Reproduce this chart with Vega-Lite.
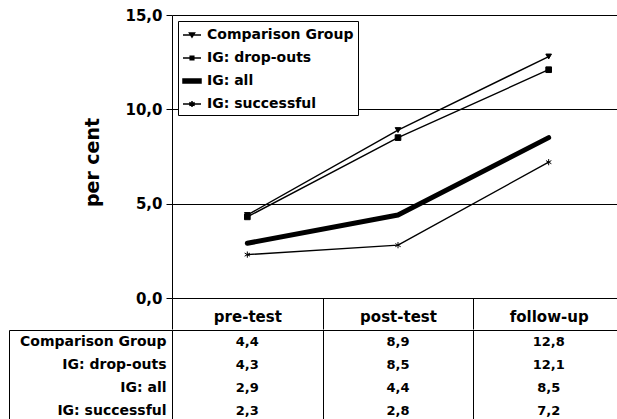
{
  "$schema": "https://vega.github.io/schema/vega-lite/v6.json",
  "padding": {"left": 8, "top": 8, "right": 0, "bottom": 0},
  "spacing": -8,
  "datasets": {
    "d": [
      {"group": "Comparison Group", "time": "pre-test", "value": 4.4},
      {"group": "Comparison Group", "time": "post-test", "value": 8.9},
      {"group": "Comparison Group", "time": "follow-up", "value": 12.8},
      {"group": "IG: drop-outs", "time": "pre-test", "value": 4.3},
      {"group": "IG: drop-outs", "time": "post-test", "value": 8.5},
      {"group": "IG: drop-outs", "time": "follow-up", "value": 12.1},
      {"group": "IG: all", "time": "pre-test", "value": 2.9},
      {"group": "IG: all", "time": "post-test", "value": 4.4},
      {"group": "IG: all", "time": "follow-up", "value": 8.5},
      {"group": "IG: successful", "time": "pre-test", "value": 2.3},
      {"group": "IG: successful", "time": "post-test", "value": 2.8},
      {"group": "IG: successful", "time": "follow-up", "value": 7.2}
    ]
  },
  "config": {
    "locale": {"number": {"decimal": ",", "thousands": ".", "grouping": [3], "currency": ["", ""]}},
    "font": "DejaVu Sans",
    "view": {"stroke": null},
    "axis": {
      "labelFont": "DejaVu Sans", "labelFontWeight": "bold", "labelColor": "black",
      "titleFont": "DejaVu Sans", "titleColor": "black",
      "domainColor": "black", "tickColor": "black", "gridColor": "black", "gridOpacity": 1
    }
  },
  "vconcat": [
    {
      "width": 452,
      "height": 283,
      "data": {"name": "d"},
      "encoding": {
        "x": {
          "field": "time", "type": "nominal",
          "scale": {"type": "band", "domain": ["pre-test", "post-test", "follow-up"], "paddingInner": 0, "paddingOuter": 0},
          "bandPosition": 0.5,
          "axis": {
            "title": null, "orient": "bottom", "tickBand": "extent", "tickSize": 31,
            "domain": false, "grid": false, "labelFontSize": 15, "labelBaseline": "alphabetic",
            "labelPadding": -8, "labelAngle": 0
          }
        },
        "y": {
          "field": "value", "type": "quantitative",
          "scale": {"domain": [0, 15], "nice": false},
          "axis": {
            "values": [0, 5, 10, 15], "format": ".1f", "title": "per cent",
            "titleFontSize": 19, "titleFontWeight": "bold", "titlePadding": 22, "titleY": 147,
            "labelFontSize": 15, "labelPadding": 4, "tickSize": 6, "grid": true, "gridWidth": 1
          }
        }
      },
      "layer": [
        {
          "transform": [{"filter": "datum.group !== 'IG: all'"}],
          "mark": {"type": "line", "color": "black", "strokeWidth": 1.4, "strokeCap": "round", "strokeJoin": "round"},
          "encoding": {"detail": {"field": "group", "type": "nominal"}}
        },
        {
          "transform": [{"filter": "datum.group === 'IG: all'"}],
          "mark": {"type": "line", "color": "black", "strokeWidth": 5, "strokeCap": "round", "strokeJoin": "round"},
          "encoding": {"detail": {"field": "group", "type": "nominal"}}
        },
        {
          "transform": [{"filter": "datum.group !== 'IG: all'"}],
          "mark": {"type": "point", "filled": true, "fill": "black", "stroke": "black", "strokeWidth": 1, "opacity": 1, "size": 32},
          "encoding": {
            "shape": {
              "field": "group", "type": "nominal",
              "scale": {"domain": ["Comparison Group", "IG: drop-outs", "IG: successful"], "range": ["triangle-down", "square", "M0,-1.1V1.1M-0.95,-0.55L0.95,0.55M-0.95,0.55L0.95,-0.55"]},
              "legend": null
            }
          }
        },
        {
          "transform": [{"filter": "false"}],
          "mark": {"type": "point", "filled": true, "fill": "black", "stroke": "black", "strokeWidth": 1.2, "opacity": 1},
          "encoding": {
            "shape": {
              "field": "group", "type": "nominal",
              "scale": {
                "domain": ["Comparison Group", "IG: drop-outs", "IG: all", "IG: successful"],
                "range": [
                  "M-1,0H1M-0.28,-0.22H0.28L0,0.22Z",
                  "M-1,0H1M-0.2,-0.2H0.2V0.2H-0.2Z",
                  "M-1,-0.22H1V0.22H-1Z",
                  "M-1,0H1M0,-0.33V0.33M-0.29,-0.17L0.29,0.17M-0.29,0.17L0.29,-0.17"
                ]
              },
              "legend": {
                "title": null, "orient": "none", "legendX": 6, "legendY": 6,
                "strokeColor": "black", "fillColor": "white", "padding": 4,
                "symbolSize": 324,
                "labelFont": "DejaVu Sans", "labelFontWeight": "bold", "labelFontSize": 14,
                "labelColor": "black", "rowPadding": 6, "labelOffset": 5,
                "encode": {
                  "symbols": {
                    "update": {
                      "stroke": {"value": "black"},
                      "strokeWidth": {"value": 1.2},
                      "fill": {"value": "black"},
                      "opacity": {"value": 1}
                    }
                  }
                }
              }
            }
          }
        }
      ],
      "resolve": {"scale": {"shape": "independent"}}
    },
    {
      "width": 452,
      "height": 92,
      "data": {"name": "d"},
      "view": {"stroke": "black", "strokeWidth": 1},
      "encoding": {
        "x": {
          "field": "time", "type": "nominal",
          "scale": {"type": "band", "domain": ["pre-test", "post-test", "follow-up"], "paddingInner": 0, "paddingOuter": 0},
          "bandPosition": 0.5,
          "axis": {"title": null, "labels": false, "ticks": false, "domain": false, "grid": true, "tickBand": "extent", "gridColor": "black"}
        }
      },
      "layer": [
        {
          "mark": {"type": "text", "fontWeight": "bold", "fontSize": 13, "color": "black"},
          "encoding": {
            "y": {
              "field": "group", "type": "nominal",
              "scale": {"type": "band", "domain": ["Comparison Group", "IG: drop-outs", "IG: all", "IG: successful"], "paddingInner": 0, "paddingOuter": 0},
              "axis": {
                "title": null, "orient": "left", "domain": false, "grid": false, "tickBand": "extent", "tickSize": 163,
                "tickColor": {"condition": {"test": "datum.extra", "value": "black"}, "value": "transparent"},
                "labelFontSize": 14, "labelPadding": -157
              }
            },
            "text": {"field": "value", "type": "quantitative", "format": ".1f"}
          }
        },
        {
          "mark": {"type": "text", "opacity": 0},
          "encoding": {
            "y": {
              "field": "group", "type": "nominal",
              "scale": {"type": "band", "domain": ["Comparison Group", "IG: drop-outs", "IG: all", "IG: successful"], "paddingInner": 0, "paddingOuter": 0},
              "axis": {
                "title": null, "orient": "right", "offset": -615, "labels": false, "ticks": false,
                "grid": false, "domain": true, "domainColor": "black"
              }
            },
            "text": {"value": ""}
          }
        }
      ],
      "resolve": {"scale": {"y": "independent"}, "axis": {"y": "independent"}}
    }
  ]
}
